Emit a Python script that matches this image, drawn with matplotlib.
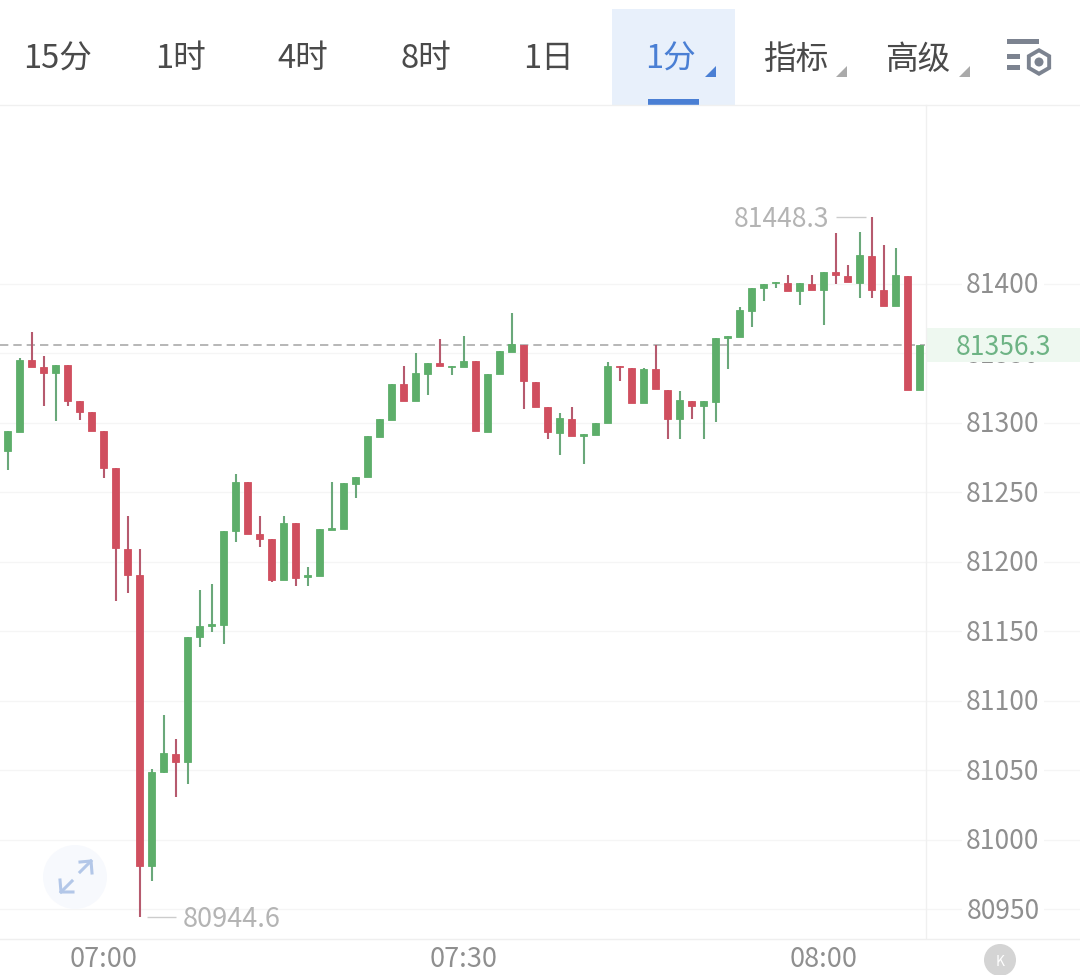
import matplotlib
matplotlib.use('Agg')
import matplotlib.pyplot as plt
from matplotlib.patches import Rectangle, Circle, Polygon, RegularPolygon
from matplotlib.transforms import ScaledTranslation

plt.rcParams['font.family'] = ['Noto Sans CJK SC', 'DejaVu Sans']

# 1 minute candles, first one is 06:52
opens = [81279.7, 81293.6, 81345.0, 81339.9, 81336.0, 81341.3, 81315.4, 81307.5, 81294.1, 81267.5,
         81209.4, 81190.5, 80981.2, 81048.6, 81061.7, 81055.8, 81146.1, 81153.8, 81154.3, 81221.9,
         81257.2, 81220.0, 81216.4, 81186.9, 81227.9, 81189.3, 81189.8, 81222.7, 81223.6, 81256.0,
         81260.8, 81289.8, 81302.0, 81327.7, 81315.7, 81335.3, 81342.8, 81340.4, 81340.4, 81344.2,
         81293.6, 81334.9, 81351.1, 81356.2, 81329.6, 81311.4, 81292.9, 81302.7, 81290.7, 81291.0,
         81299.6, 81340.9, 81339.2, 81314.0, 81338.5, 81323.6, 81302.7, 81315.9, 81312.1, 81315.2,
         81361.2, 81361.5, 81380.6, 81396.8, 81400.6, 81400.8, 81395.0, 81400.1, 81395.3, 81408.5,
         81405.6, 81400.8, 81420.0, 81395.3, 81383.8, 81405.6, 81323.4]
highs = [81294.1, 81346.8, 81365.3, 81348.0, 81341.8, 81341.3, 81315.4, 81307.5, 81294.1, 81267.5,
         81233.2, 81209.2, 81051.2, 81089.8, 81072.5, 81146.1, 81179.5, 81183.8, 81222.4, 81263.2,
         81257.2, 81233.2, 81216.4, 81232.9, 81227.9, 81196.3, 81223.6, 81257.2, 81256.5, 81261.0,
         81290.5, 81302.5, 81328.1, 81340.6, 81350.0, 81343.0, 81360.5, 81341.1, 81362.4, 81344.2,
         81335.1, 81351.6, 81379.0, 81356.2, 81329.6, 81311.4, 81306.8, 81311.6, 81291.7, 81300.1,
         81343.7, 81340.9, 81339.2, 81339.6, 81356.0, 81323.6, 81323.1, 81315.9, 81315.4, 81361.0,
         81362.2, 81383.5, 81397.2, 81400.1, 81401.5, 81406.5, 81400.3, 81406.5, 81408.7, 81436.7,
         81413.7, 81437.0, 81448.3, 81427.7, 81425.5, 81405.6, 81356.3]
lows = [81266.0, 81293.6, 81340.1, 81312.3, 81301.3, 81312.3, 81302.0, 81294.1, 81260.1, 81172.0,
        81177.8, 80944.6, 80970.6, 81047.8, 81031.0, 81040.1, 81138.9, 81149.7, 81140.9, 81214.5,
        81220.0, 81210.9, 81185.5, 81186.9, 81182.6, 81182.6, 81189.8, 81222.7, 81223.6, 81245.9,
        81260.8, 81289.8, 81302.0, 81315.9, 81315.7, 81320.2, 81340.6, 81334.2, 81340.4, 81294.1,
        81293.6, 81334.9, 81351.1, 81310.1, 81311.6, 81288.1, 81277.0, 81290.7, 81270.4, 81291.0,
        81299.6, 81330.1, 81314.5, 81314.0, 81324.1, 81288.6, 81288.6, 81302.9, 81288.6, 81300.8,
        81338.5, 81361.5, 81368.7, 81387.8, 81397.2, 81395.0, 81385.0, 81395.7, 81370.6, 81400.1,
        81401.1, 81390.0, 81390.0, 81384.0, 81383.8, 81323.6, 81323.4]
closes = [81294.1, 81345.2, 81340.1, 81336.0, 81341.8, 81315.7, 81307.8, 81294.1, 81267.7, 81209.7,
          81190.7, 80981.4, 81049.0, 81062.2, 81056.0, 81146.1, 81154.0, 81155.0, 81222.4, 81257.2,
          81220.0, 81216.6, 81187.1, 81227.9, 81188.6, 81190.3, 81223.6, 81224.1, 81256.5, 81261.0,
          81290.5, 81302.5, 81328.1, 81315.9, 81335.8, 81343.0, 81340.6, 81341.1, 81344.4, 81294.1,
          81335.1, 81351.6, 81356.5, 81329.8, 81311.6, 81293.6, 81303.2, 81290.7, 81291.7, 81300.1,
          81340.9, 81339.9, 81314.5, 81338.7, 81324.1, 81302.9, 81316.2, 81312.3, 81315.4, 81361.0,
          81362.2, 81380.9, 81397.2, 81400.1, 81401.5, 81395.0, 81400.3, 81395.7, 81408.7, 81406.1,
          81401.1, 81420.5, 81395.7, 81384.0, 81406.3, 81323.6, 81356.3]

price_ticks = [80950, 81000, 81050, 81100, 81150, 81200, 81250, 81300, 81350, 81400]
time_ticks = [8, 38, 68]
time_labels = ['07:00', '07:30', '08:00']
last_price = 81356.3
max_idx, max_price = 72, 81448.3
min_idx, min_price = 11, 80944.6
tabs = ['15分', '1时', '4时', '8时', '1日', '1分', '指标', '高级']

GREEN = '#5dae6a'
RED = '#d04f5f'
GREEN_WICK = '#6aa87a'
RED_WICK = '#b65a6e'
GREY = '#8f8f8f'
LIGHT_GREY = '#b4b4b4'

W, H = 1080, 975
fig = plt.figure(figsize=(W / 100, H / 100), dpi=100, facecolor='white')

# main chart, runs under the price column up to the right edge
ax = fig.add_axes([0, (H - 938) / H, 1, (938 - 105) / H])
ax.set_xlim(-0.642, 89.36)
ax.set_ylim(80929.35, 81528.6)
ax.set_axisbelow(True)
for s in ax.spines.values():
    s.set_visible(False)

ax.set_yticks(price_ticks)
ax.set_yticklabels([str(p) for p in price_ticks])
ax.yaxis.tick_right()
ax.tick_params(axis='y', length=0, pad=-55.5, labelsize=19, labelcolor=GREY)
lift = ScaledTranslation(0, 1 / 100, fig.dpi_scale_trans)
for lab in ax.get_yticklabels():
    lab.set_ha('center')
    lab.set_bbox(dict(facecolor='white', edgecolor='none', pad=3))
    lab.set_transform(lab.get_transform() + lift)
ax.set_xticks(time_ticks)
ax.set_xticklabels(time_labels)
ax.tick_params(axis='x', length=0, pad=5.5, labelsize=19.5, labelcolor=GREY)
ax.grid(axis='y', color='#f5f5f5', lw=1)

ax.hlines(last_price, -0.642, 76.44, color='#aaaaaa', lw=1.2, linestyles=(0, (5, 3)), zorder=2)

for i, (o, h, l, c) in enumerate(zip(opens, highs, lows, closes)):
    up = c >= o
    ax.vlines(i, l, h, color=GREEN_WICK if up else RED_WICK, lw=1.5, zorder=3)
    ax.bar(i, abs(c - o), bottom=min(o, c), width=0.62, color=GREEN if up else RED,
           edgecolor=GREEN if up else RED, linewidth=0.6, zorder=4)

# max and min markers
ax.text(max_idx - 3.5, max_price, '81448.3', color=LIGHT_GREY, fontsize=19, ha='right', va='center_baseline', zorder=5)
ax.hlines(max_price, max_idx - 3, max_idx - 0.5, color='#cccccc', lw=1, zorder=3)
ax.text(min_idx + 3.6, min_price, '80944.6', color=LIGHT_GREY, fontsize=19.5, ha='left', va='center_baseline', zorder=5)
ax.hlines(min_price, min_idx + 0.6, min_idx + 3, color='#cccccc', lw=1, zorder=3)

# last price box in the price column
ax.add_patch(Rectangle((76.5, 81343.5), 12.9, 25, facecolor='#eef8f0', edgecolor='none', zorder=5))
ax.text(83.0, last_price, '81356.3', color='#6db384', fontsize=19, ha='center', va='center_baseline', zorder=6)

# toolbar and other screen furniture, in pixels
ui = fig.add_axes([0, 0, 1, 1], facecolor='none')
ui.set_xlim(0, W)
ui.set_ylim(H, 0)
ui.axis('off')

ui.add_patch(Rectangle((612, 9), 123, 96, facecolor='#e8f0fb', edgecolor='none'))
ui.add_patch(Rectangle((648, 99), 51, 6, facecolor='#4a7fd4', edgecolor='none'))
ui.plot([0, W], [105, 105], color='#f0f0f0', lw=1)
ui.plot([925.5, 925.5], [105, 938], color='#f0f0f0', lw=1)
ui.plot([0, W], [938.5, 938.5], color='#efefef', lw=1)

tab_x = [58, 180, 303, 426, 548, 670, 796, 918]
for name, x in zip(tabs, tab_x):
    ui.text(x, 59.5, name, fontsize=23.5, ha='center', va='center',
            color='#4a7fd4' if name == '1分' else '#4a4a4a')

for x, col in [(705, '#4a7fd4'), (836, '#aaaaaa'), (959, '#aaaaaa')]:
    ui.add_patch(Polygon([(x, 77), (x + 11, 77), (x + 11, 66)], facecolor=col, edgecolor='none'))

# settings icon
ui.add_patch(Rectangle((1007, 39), 32, 5, facecolor='#7c8390', edgecolor='none'))
ui.add_patch(Rectangle((1007, 54), 13, 5, facecolor='#7c8390', edgecolor='none'))
ui.add_patch(Rectangle((1007, 65), 13, 5, facecolor='#7c8390', edgecolor='none'))
ui.add_patch(RegularPolygon((1039, 62), 6, radius=14, facecolor='#7c8390', edgecolor='none'))
ui.add_patch(RegularPolygon((1039, 62), 6, radius=9.5, facecolor='white', edgecolor='none'))
ui.add_patch(Circle((1039, 62), 4.5, facecolor='#7c8390', edgecolor='none'))

# expand button
ui.add_patch(Circle((75, 877), 32, facecolor='#f7f9fd', edgecolor='none'))
ui.plot([80, 91], [872, 861], color='#b3c7e8', lw=2.2)
ui.plot([80, 91, 92], [862, 861, 873], color='#b3c7e8', lw=2.2)
ui.plot([61, 72], [892, 881], color='#b3c7e8', lw=2.2)
ui.plot([60, 61, 73], [880, 892, 892], color='#b3c7e8', lw=2.2)

# K badge
ui.add_patch(Circle((1000, 960), 16, facecolor='#d4d4d4', edgecolor='none'))
ui.text(1000, 960, 'K', color='white', fontsize=10, ha='center', va='center_baseline')

fig.savefig('out.png', dpi=100)
